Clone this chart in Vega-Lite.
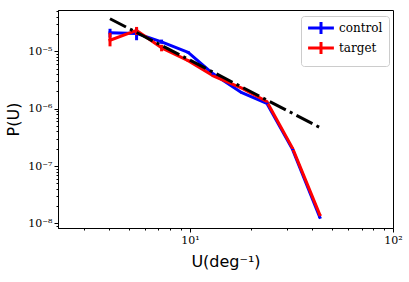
{
  "$schema": "https://vega.github.io/schema/vega-lite/v6.json",
  "width": 335,
  "height": 218,
  "autosize": {"type": "none"},
  "padding": {"left": 58, "top": 10, "right": 16, "bottom": 54},
  "background": "white",
  "config": {
    "view": {"stroke": "black", "strokeWidth": 1},
    "axis": {
      "grid": false,
      "domainColor": "black",
      "tickColor": "black",
      "labelColor": "black",
      "titleColor": "black",
      "labelFont": "DejaVu Serif",
      "labelFontSize": 11,
      "titleFont": "DejaVu Sans",
      "titleFontSize": 16,
      "titleFontWeight": "normal",
      "labelOverlap": false,
      "labelFlush": false
    }
  },
  "datasets": {
    "pu": [
      {"U": 4.04, "P": 2.1e-5, "lo": 1.74e-5, "hi": 2.47e-5, "series": "control"},
      {"U": 5.46, "P": 2.05e-5, "lo": 1.56e-5, "hi": 2.57e-5, "series": "control"},
      {"U": 7.25, "P": 1.46e-5, "lo": 1.35e-5, "hi": 1.6e-5, "series": "control"},
      {"U": 9.8, "P": 9.6e-6, "lo": 9.1e-6, "hi": 1.01e-5, "series": "control"},
      {"U": 13.0, "P": 4.05e-6, "lo": 3.9e-6, "hi": 4.2e-6, "series": "control"},
      {"U": 18.0, "P": 1.9e-6, "lo": 1.84e-6, "hi": 1.96e-6, "series": "control"},
      {"U": 23.9, "P": 1.24e-6, "lo": 1.2e-6, "hi": 1.28e-6, "series": "control"},
      {"U": 32.0, "P": 1.95e-7, "lo": 1.9e-7, "hi": 2.0e-7, "series": "control"},
      {"U": 43.6, "P": 1.27e-8, "lo": 1.24e-8, "hi": 1.3e-8, "series": "control"},
      {"U": 4.04, "P": 1.56e-5, "lo": 1.22e-5, "hi": 2.1e-5, "series": "target"},
      {"U": 5.46, "P": 2.31e-5, "lo": 1.92e-5, "hi": 2.66e-5, "series": "target"},
      {"U": 7.25, "P": 1.15e-5, "lo": 1.0e-5, "hi": 1.3e-5, "series": "target"},
      {"U": 9.8, "P": 6.87e-6, "lo": 6.5e-6, "hi": 7.25e-6, "series": "target"},
      {"U": 13.0, "P": 3.74e-6, "lo": 3.6e-6, "hi": 3.88e-6, "series": "target"},
      {"U": 18.0, "P": 2.28e-6, "lo": 2.2e-6, "hi": 2.36e-6, "series": "target"},
      {"U": 23.9, "P": 1.33e-6, "lo": 1.29e-6, "hi": 1.37e-6, "series": "target"},
      {"U": 32.0, "P": 2.05e-7, "lo": 2.0e-7, "hi": 2.1e-7, "series": "target"},
      {"U": 43.6, "P": 1.41e-8, "lo": 1.37e-8, "hi": 1.45e-8, "series": "target"}
    ],
    "fit": [
      {"U": 4.04, "P": 3.7e-5},
      {"U": 43.6, "P": 4.7e-7}
    ]
  },
  "layer": [
    {
      "data": {"name": "pu"},
      "mark": {"type": "line", "strokeWidth": 3, "strokeJoin": "round", "strokeCap": "square", "clip": true},
      "encoding": {
        "x": {
          "field": "U", "type": "quantitative",
          "scale": {"type": "log", "domain": [2.24, 100], "nice": false},
          "axis": {
            "title": "U(deg⁻¹)",
            "titlePadding": 8,
            "values": [3, 4, 5, 6, 7, 8, 9, 10, 20, 30, 40, 50, 60, 70, 80, 90, 100],
            "labelExpr": "datum.value == 10 ? '10¹' : datum.value == 100 ? '10²' : ''",
            "tickSize": {"condition": {"test": "datum.value == 10 || datum.value == 100", "value": 4}, "value": 2},
            "labelPadding": 2
          }
        },
        "y": {
          "field": "P", "type": "quantitative",
          "scale": {"type": "log", "domain": [8.3e-9, 5.25e-5], "nice": false},
          "axis": {
            "title": "P(U)",
            "titlePadding": 6,
            "values": [9e-9, 1e-8, 2e-8, 3e-8, 4e-8, 5e-8, 6e-8, 7e-8, 8e-8, 9e-8, 1e-7, 2e-7, 3e-7, 4e-7, 5e-7, 6e-7, 7e-7, 8e-7, 9e-7, 1e-6, 2e-6, 3e-6, 4e-6, 5e-6, 6e-6, 7e-6, 8e-6, 9e-6, 1e-5, 2e-5, 3e-5, 4e-5, 5e-5],
            "labelExpr": "datum.value == 1e-8 ? '10⁻⁸' : datum.value == 1e-7 ? '10⁻⁷' : datum.value == 1e-6 ? '10⁻⁶' : datum.value == 1e-5 ? '10⁻⁵' : ''",
            "tickSize": {"condition": {"test": "datum.value == 1e-8 || datum.value == 1e-7 || datum.value == 1e-6 || datum.value == 1e-5", "value": 4}, "value": 2},
            "labelPadding": 2
          }
        },
        "color": {
          "field": "series", "type": "nominal",
          "scale": {"domain": ["control", "target"], "range": ["#0000ff", "#ff0000"]},
          "legend": {
            "title": null,
            "orient": "none",
            "legendX": 243,
            "legendY": 6,
            "symbolType": "M-4.3,0H4.3M0,-2V2",
            "symbolSize": 36,
            "symbolStrokeWidth": 3,
            "symbolFillColor": "transparent",
            "symbolOffset": 8,
            "labelFont": "DejaVu Serif",
            "labelFontSize": 12,
            "labelColor": "black",
            "labelOffset": 12,
            "rowPadding": -4,
            "padding": 6,
            "strokeColor": "#cccccc",
            "fillColor": "white",
            "cornerRadius": 3
          }
        }
      }
    },
    {
      "data": {"name": "pu"},
      "mark": {"type": "rule", "strokeWidth": 3, "clip": true},
      "encoding": {
        "x": {"field": "U", "type": "quantitative"},
        "y": {"field": "lo", "type": "quantitative"},
        "y2": {"field": "hi"},
        "color": {"field": "series", "type": "nominal", "legend": null}
      }
    },
    {
      "data": {"name": "fit"},
      "mark": {"type": "line", "color": "black", "strokeWidth": 3, "strokeDash": [18, 4.5, 3, 4.5], "strokeCap": "butt", "clip": true},
      "encoding": {
        "x": {"field": "U", "type": "quantitative"},
        "y": {"field": "P", "type": "quantitative"}
      }
    }
  ]
}
